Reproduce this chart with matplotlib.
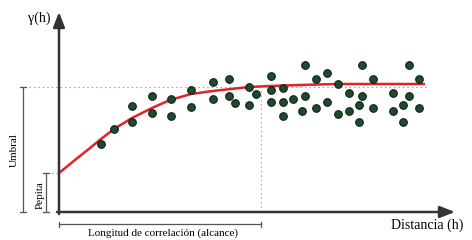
"""Semivariogram sketch: experimental points, fitted model, nugget / sill / range."""
import matplotlib
matplotlib.use("Agg")
import matplotlib.pyplot as plt

plt.rcParams["font.family"] = ["Liberation Serif", "DejaVu Serif"]

# experimental semivariogram (distance h, gamma)
POINT_H = [42, 55, 73, 73, 93, 93, 112, 112, 132, 132, 154, 154, 170, 170, 176,
           190, 190, 197, 212, 212, 212, 224, 224, 224, 234, 246, 246, 243, 257,
           257, 268, 268, 279, 279, 290, 290, 303, 303, 300, 300, 314, 314, 334,
           334, 344, 344, 350, 350, 360, 360]
POINT_G = [68, 83, 90, 106, 99, 116, 113, 96, 122, 105, 130, 113, 133, 116, 109,
           125, 107, 118, 136, 122, 110, 124, 110, 96, 113, 147, 116, 101, 133,
           104, 139, 110, 128, 98, 119, 101, 147, 116, 107, 90, 133, 104, 119,
           101, 107, 90, 147, 116, 133, 104]

# fitted model curve
MODEL_H = [0, 16, 31, 42, 55, 73, 93, 111, 132, 154, 190, 211, 241, 278, 311, 366]
MODEL_G = [39, 52, 64, 73, 83, 94, 104, 112, 118, 121, 125, 126, 127, 128, 128, 128]

NUGGET = 39
SILL = 125
RANGE = 202
H_MAX = 396
G_MAX = 200

AX_COL = "#333333"
GRID_COL = "#aaaaaa"
RED = "#e3202b"
GREEN = "#1f4a30"

fig = plt.figure(figsize=(4.72, 2.40), dpi=100)
ax = fig.add_axes([0, 0, 1, 1])
ax.set_xlim(-59, 413)
ax.set_ylim(-28, 212)
ax.axis("off")

# axes with arrow heads
ax.annotate("", xy=(H_MAX, 0), xytext=(-2, 0),
            arrowprops=dict(arrowstyle="-|>,head_length=0.9,head_width=0.35",
                            color=AX_COL, lw=1.8, shrinkA=0, shrinkB=0))
ax.annotate("", xy=(0, G_MAX), xytext=(0, -2),
            arrowprops=dict(arrowstyle="-|>,head_length=0.9,head_width=0.35",
                            color=AX_COL, lw=1.8, shrinkA=0, shrinkB=0))

# sill and range guides
ax.plot([-39, 370], [SILL, SILL], ls=(0, (1.5, 2.5)), color=GRID_COL, lw=0.8, zorder=1)
ax.plot([RANGE, RANGE], [0, SILL], ls=(0, (1.5, 2.5)), color=GRID_COL, lw=0.8, zorder=1)
ax.plot([-12, 0], [NUGGET, NUGGET], ls=(0, (1.5, 2.5)), color=GRID_COL, lw=0.8, zorder=1)

# model + points
ax.plot(MODEL_H, MODEL_G, color=RED, lw=1.8, zorder=2, solid_capstyle="butt")
ax.scatter(POINT_H, POINT_G, s=30, color=GREEN, edgecolor="#0c2215",
           linewidth=0.8, zorder=3)


def bracket(x0, y0, x1, y1, vertical):
    ax.plot([x0, x1], [y0, y1], color="#555555", lw=0.9)
    for x, y in ((x0, y0), (x1, y1)):
        if vertical:
            ax.plot([x - 3, x + 3], [y, y], color="#555555", lw=0.9)
        else:
            ax.plot([x, x], [y - 2.5, y + 2.5], color="#555555", lw=0.9)


bracket(-36, 0, -36, SILL, True)      # Umbral
bracket(-13, 0, -13, NUGGET, True)    # Pepita
bracket(0, -12, RANGE, -12, False)    # alcance

ax.text(-45, 62, "Umbral", rotation=90, ha="center", va="center", fontsize=8)
ax.text(-19, 17, "Pepita", rotation=90, ha="center", va="center", fontsize=8)
ax.text(104, -21, "Longitud de correlación (alcance)", ha="center", va="center",
        fontsize=8)
ax.text(368, -13, "Distancia (h)", ha="center", va="center", fontsize=10)
ax.text(-20, 194, "γ(h)", ha="center", va="center", fontsize=10)

fig.savefig("out.png", dpi=100)
